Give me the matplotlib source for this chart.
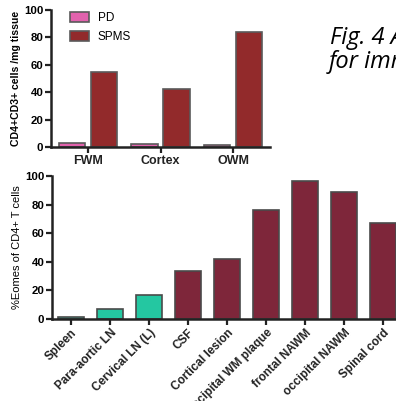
import matplotlib.pyplot as plt
import numpy as np

plt.rcParams['font.family'] = ['Liberation Sans', 'DejaVu Sans']

# top panel: CD4+CD3+ cells per mg tissue
regions = ['FWM', 'Cortex', 'OWM']
pd_vals = [3.0, 2.0, 1.8]
spms_vals = [54.7, 42.3, 84.0]

# bottom panel: % Eomes of CD4+ T cells
sites = ['Spleen', 'Para-aortic LN', 'Cervical LN (L)', 'CSF', 'Cortical lesion',
         'Occipital WM plaque', 'frontal NAWM', 'occipital NAWM', 'Spinal cord']
eomes = [1.6, 7.0, 17.0, 33.6, 42.0, 76.0, 96.5, 89.0, 67.0]
lymph = [True, True, True, False, False, False, False, False, False]

W, H = 396, 401
fig = plt.figure(figsize=(W / 100, H / 100), dpi=100)


def style_axes(ax):
    for s in ['top', 'right']:
        ax.spines[s].set_visible(False)
    for s in ['left', 'bottom']:
        ax.spines[s].set_linewidth(1.8)
        ax.spines[s].set_color('#222222')
    ax.tick_params(axis='both', length=4, width=1.6, color='#222222', pad=1.5)
    ax.set_ylim(0, 100)
    ax.set_yticks([0, 20, 40, 60, 80, 100])
    for lab in ax.get_yticklabels():
        lab.set_fontweight('bold')
        lab.set_fontsize(8.2)


# ---- top chart
ax1 = fig.add_axes([51 / W, 1 - 147 / H, (270 - 51) / W, (147 - 10) / H])
x = np.arange(len(regions))
ax1.bar(x - 0.22, pd_vals, 0.36, color='#e262ad', edgecolor='#5a5a5a', linewidth=1.2, label='PD')
ax1.bar(x + 0.22, spms_vals, 0.36, color='#922a2b', edgecolor='#5a5a5a', linewidth=1.2, label='SPMS')
ax1.set_xlim(-0.51, 2.51)
style_axes(ax1)
ax1.set_xticks(x)
ax1.set_xticklabels(regions, fontsize=9, fontweight='bold', color='#222222')
ax1.set_ylabel('CD4+CD3+ cells /mg tissue', fontsize=7.6, fontweight='semibold', labelpad=2)
ax1.legend(loc='upper left', bbox_to_anchor=(0.04, 1.06), frameon=False, fontsize=8.5,
           handlelength=1.6, handleheight=0.9, handletextpad=0.7, labelspacing=0.55)

fig.text(330 / W, 1 - 44 / H, 'Fig. 4 A', fontsize=17, style='italic', family='Open Sans')
fig.text(329 / W, 1 - 68 / H, 'for imm', fontsize=17, style='italic', family='Open Sans')

# ---- bottom chart
ax2 = fig.add_axes([52 / W, 1 - 319 / H, (402.5 - 52) / W, (319 - 176) / H])
xs = np.arange(len(sites))
cols = ['#24c7a1' if l else '#7e263a' for l in lymph]
ax2.bar(xs, eomes, 0.66, color=cols, edgecolor='#4a4a4a', linewidth=1.2)
ax2.set_xlim(-0.49, 8.5)
style_axes(ax2)
ax2.set_xticks(xs)
ax2.set_xticklabels(sites, rotation=45, ha='right', rotation_mode='anchor',
                    fontsize=8.5, fontweight='bold', color='#222222')
ax2.set_ylabel('%Eomes of CD4+ T cells', fontsize=8, labelpad=2)

fig.savefig('out.png', dpi=100)
